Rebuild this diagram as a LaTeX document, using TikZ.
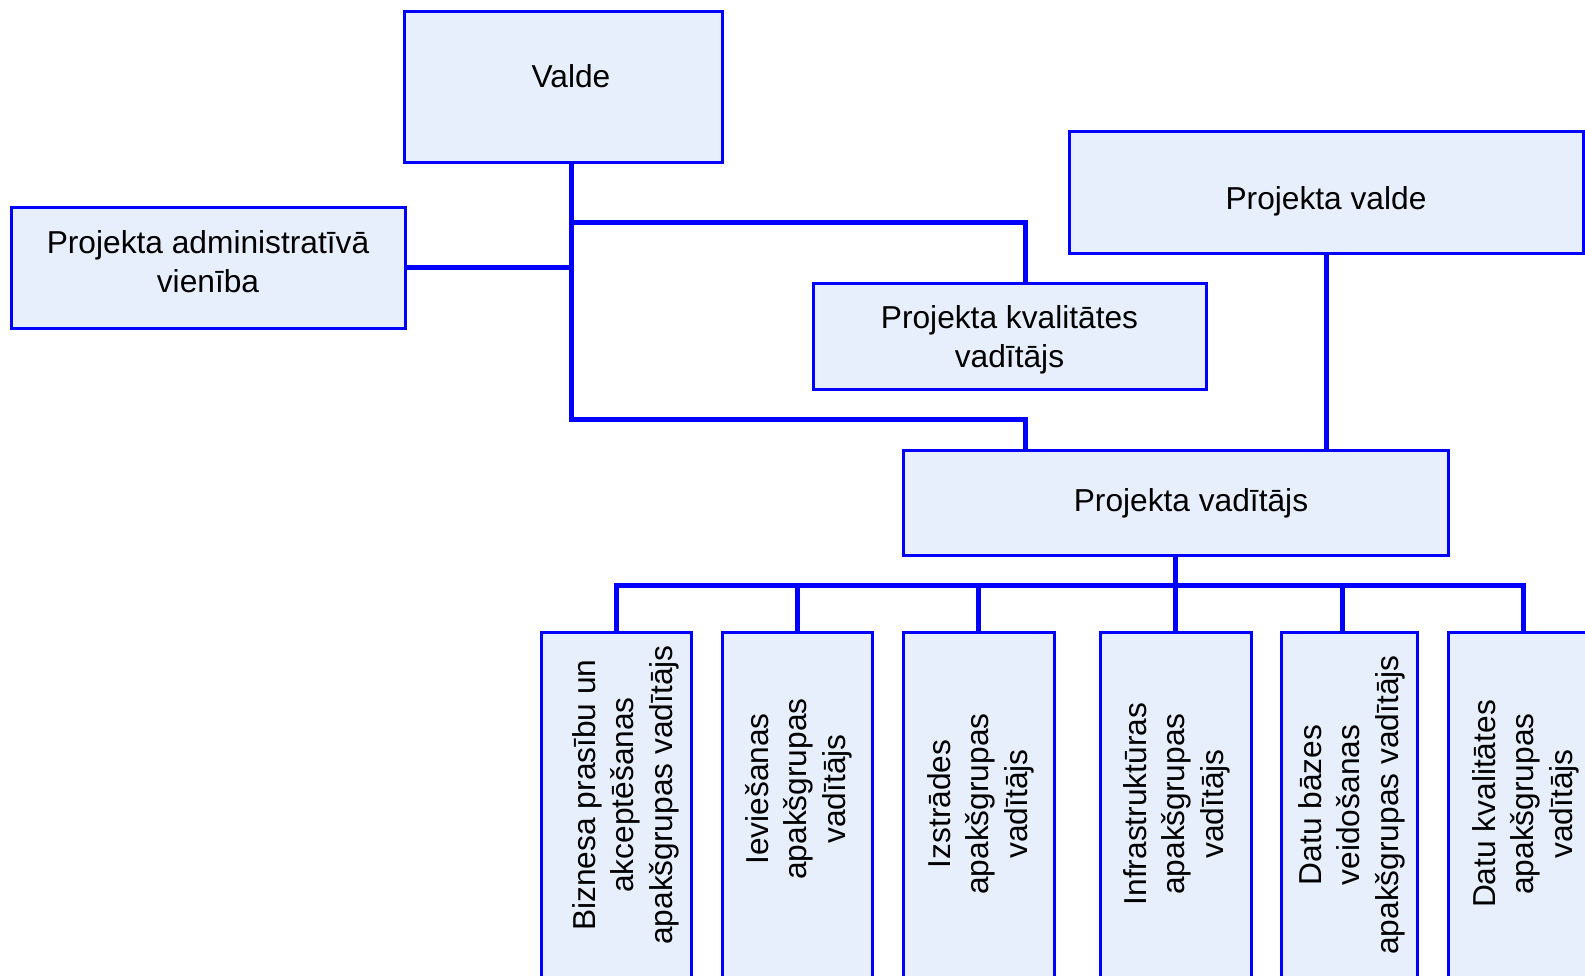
\documentclass[tikz,border=0pt]{standalone}
\usepackage{fontspec}
\setmainfont{Liberation Sans}
\usetikzlibrary{backgrounds}
\definecolor{lineblue}{RGB}{0,0,255}
\definecolor{boxfill}{RGB}{232,239,252}
\begin{document}
\begin{tikzpicture}[x=1pt,y=-1pt,
  box/.style={rectangle, draw=lineblue, fill=boxfill, line width=3pt, inner sep=0pt},
  lbl/.style={font=\fontsize{31.7}{38.5}\selectfont, align=center, anchor=base, inner sep=0pt, text=black},
  vlbl/.style={lbl, rotate=90},
  link/.style={draw=lineblue, line width=5pt, line cap=rect, line join=miter}]
\useasboundingbox (0,0) rectangle (1585,975);
\clip (0,0) rectangle (1585,975);

% top level boxes
\node[box, minimum width=318pt, minimum height=151pt] (valde)  at (563,86.5)   {};
\node[box, minimum width=394pt, minimum height=121pt] (admin)  at (208,267.5)  {};
\node[box, minimum width=393pt, minimum height=106pt] (kval)   at (1009.5,336) {};
\node[box, minimum width=514pt, minimum height=122pt] (pvalde) at (1326,192)   {};
\node[box, minimum width=545pt, minimum height=105pt] (vad)    at (1175.5,502.5) {};

% subgroup boxes (run off the bottom edge)
\node[box, minimum width=150pt, minimum height=400pt, anchor=north] (b1) at (616,631)    {};
\node[box, minimum width=150pt, minimum height=400pt, anchor=north] (b2) at (797,631)    {};
\node[box, minimum width=151pt, minimum height=400pt, anchor=north] (b3) at (978.5,631)  {};
\node[box, minimum width=151pt, minimum height=400pt, anchor=north] (b4) at (1175.5,631) {};
\node[box, minimum width=136pt, minimum height=400pt, anchor=north] (b5) at (1349,631)   {};
\node[box, minimum width=150pt, minimum height=400pt, anchor=north] (b6) at (1523,631)   {};

% labels (base anchor sits on the last line's baseline)
\node[lbl] (tvalde)  at (571,87)    {Valde};
\node[lbl] (tadmin)  at (208,292)   {Projekta administratīvā\\vienība};
\node[lbl] (tkval)   at (1009.5,367) {Projekta kvalitātes\\vadītājs};
\node[lbl] (tpvalde) at (1326,209)  {Projekta valde};
\node[lbl] (tvad)    at (1191,511)  {Projekta vadītājs};

\node[vlbl] (tb1) at (672,795)  {Biznesa prasību un\\akceptēšanas\\apakšgrupas vadītājs};
\node[vlbl] (tb2) at (845,789)  {Ieviešanas\\apakšgrupas\\vadītājs};
\node[vlbl] (tb3) at (1027,804) {Izstrādes\\apakšgrupas\\vadītājs};
\node[vlbl] (tb4) at (1223,804) {Infrastruktūras\\apakšgrupas\\vadītājs};
\node[vlbl] (tb5) at (1398,805) {Datu bāzes\\veidošanas\\apakšgrupas vadītājs};
\node[vlbl] (tb6) at (1572,804) {Datu kvalitātes\\apakšgrupas\\vadītājs};

% junction points of the connectors
\coordinate (trunk)    at (571,419);
\coordinate (kvalturn) at (1025,222);
\coordinate (vadturn)  at (1025,419);
\coordinate (busL)     at (616,585);
\coordinate (busR)     at (1523,585);

\begin{pgfonlayer}{background}
  \draw[link] (valde.south -| trunk) -- (trunk);
  \draw[link] (admin.east) -- (admin.east -| trunk);
  \draw[link] (trunk |- kvalturn) -- (kvalturn) -- (kvalturn |- kval.north);
  \draw[link] (trunk) -- (vadturn) -- (vadturn |- vad.north);
  \draw[link] (pvalde.south) -- (pvalde.south |- vad.north);
  \draw[link] (vad.south) -- (vad.south |- busL);
  \draw[link] (busL) -- (busR);
  \foreach \b in {b1,b2,b3,b4,b6}
    \draw[link] (\b.north |- busL) -- (\b.north);
  \draw[link] ([xshift=-6.5pt]b5.north |- busL) -- ([xshift=-6.5pt]b5.north);
\end{pgfonlayer}
\end{tikzpicture}
\end{document}
